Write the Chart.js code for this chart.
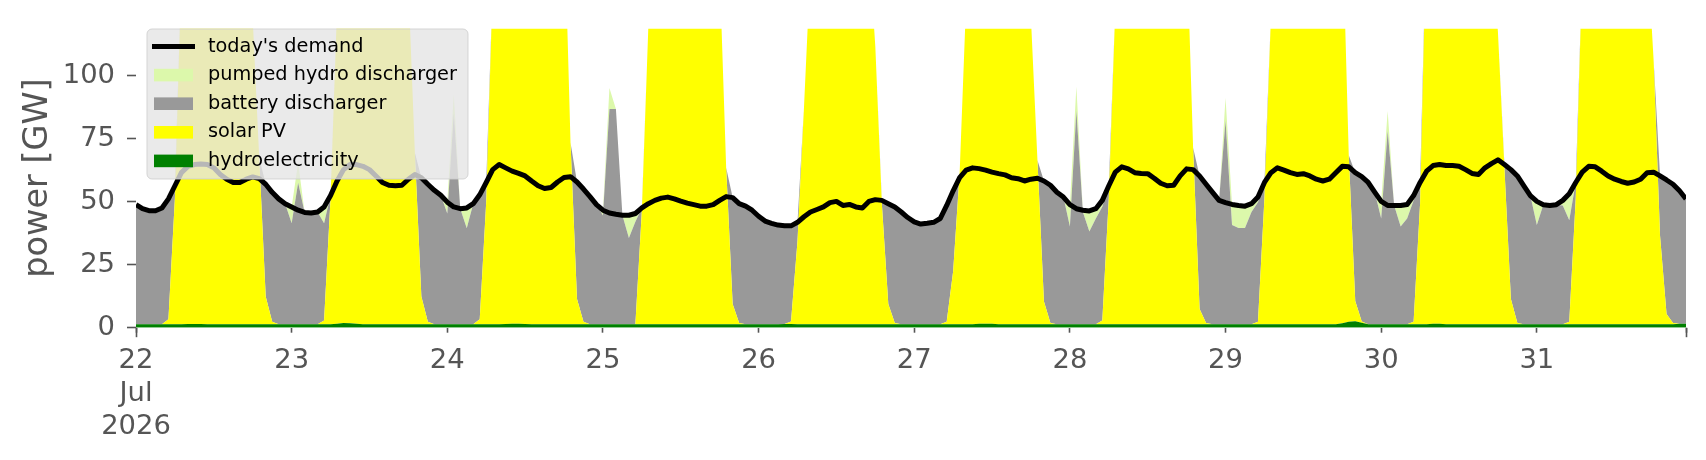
<!DOCTYPE html>
<html>
<head>
<meta charset="utf-8">
<script src="https://cdn.jsdelivr.net/npm/chart.js@4.4.1/dist/chart.umd.min.js"></script>
<style>
html,body{margin:0;padding:0;background:#ffffff;}
canvas{display:block;}
</style>
</head>
<body>
<canvas id="c" width="1706" height="460"></canvas>
<script>
// ---------- data (hourly, 22 Jul 2026 00:00 .. 31 Jul 2026 23:00) ----------
const xTickHours = [0, 24, 48, 72, 96, 120, 144, 168, 192, 216, 239];
const xTickLabels = [['22', 'Jul', '2026'], '23', '24', '25', '26', '27', '28', '29', '30', '31', ''];
const yTickValues = [0, 25, 50, 75, 100];
const seriesNames = ["hydroelectricity", "solar PV", "battery discharger", "pumped hydro discharger", "today's demand"];

const demand = [
  48.8,47.2,46.4,46.4,47.5,51.1,56.3,61.5,64.0,64.7,64.9,64.7,63.4,60.8,58.9,57.6,57.6,58.9,59.8,59.1,56.9,53.7,51.1,49.2,
  47.9,46.6,45.7,45.5,45.9,47.9,52.4,58.2,62.7,64.7,64.7,64.0,62.7,60.2,57.6,56.5,56.3,56.5,58.9,60.8,59.5,56.9,54.5,52.5,
  49.8,47.9,47.2,47.5,49.2,52.7,57.6,62.7,64.7,63.4,62.1,61.2,60.2,58.2,56.3,55.2,55.6,57.8,59.6,59.9,57.8,55.0,52.0,48.8,
  46.6,45.5,45.0,44.6,44.6,45.3,47.5,49.2,50.5,51.4,51.8,51.1,50.2,49.4,48.8,48.2,48.2,48.8,50.5,52.0,51.6,49.2,48.2,46.6,
  44.2,42.3,41.4,40.7,40.4,40.4,41.8,44.0,45.9,46.9,47.9,49.6,50.1,48.5,48.9,47.9,47.5,50.1,50.8,50.5,49.2,47.9,45.9,43.7,
  42.0,41.1,41.4,41.8,43.3,48.5,54.3,59.5,62.5,63.4,63.1,62.5,61.7,61.1,60.6,59.5,59.1,58.2,58.9,59.3,58.2,56.5,53.7,51.8,
  48.8,47.2,46.6,46.3,47.2,50.5,56.3,61.7,63.8,63.0,61.5,61.2,61.1,59.3,57.3,56.3,56.5,60.2,63.0,62.7,60.2,56.9,53.7,50.5,
  49.6,48.9,48.5,48.2,49.2,51.8,57.6,61.5,63.4,62.5,61.5,60.8,61.1,60.2,58.9,58.2,58.9,61.5,64.0,63.8,61.5,59.9,57.6,53.8,
  50.1,48.5,48.5,48.5,48.9,52.4,57.6,62.1,64.3,64.7,64.3,64.3,64.0,62.7,61.2,60.8,63.4,65.1,66.6,64.7,62.7,60.2,56.3,52.4,
  50.1,48.8,48.5,48.8,50.5,53.1,57.6,61.7,64.0,63.8,62.1,60.2,58.9,58.0,57.3,57.8,58.9,61.5,61.7,60.2,58.6,56.9,54.3,51.1
];

const hydro = [
  1.4,1.4,1.4,1.4,1.4,1.4,1.4,1.4,1.5,1.5,1.5,1.4,1.4,1.4,1.4,1.4,1.4,1.4,1.4,1.4,1.4,1.4,1.4,1.4,
  1.4,1.4,1.4,1.4,1.4,1.4,1.4,1.6,1.9,1.8,1.6,1.4,1.4,1.4,1.4,1.4,1.4,1.4,1.4,1.4,1.4,1.4,1.4,1.4,
  1.4,1.4,1.4,1.4,1.4,1.4,1.4,1.4,1.4,1.5,1.6,1.6,1.5,1.4,1.4,1.4,1.4,1.4,1.4,1.4,1.4,1.4,1.4,1.4,
  1.4,1.4,1.4,1.4,1.4,1.4,1.4,1.4,1.4,1.4,1.4,1.4,1.4,1.4,1.4,1.4,1.4,1.4,1.4,1.4,1.4,1.4,1.4,1.4,
  1.4,1.4,1.4,1.4,1.5,1.5,1.4,1.4,1.4,1.4,1.4,1.4,1.4,1.4,1.4,1.4,1.4,1.4,1.4,1.4,1.4,1.4,1.4,1.4,
  1.4,1.4,1.4,1.4,1.4,1.4,1.4,1.4,1.4,1.4,1.6,1.6,1.6,1.4,1.4,1.4,1.4,1.4,1.4,1.4,1.4,1.4,1.4,1.4,
  1.4,1.4,1.4,1.4,1.4,1.4,1.4,1.4,1.4,1.4,1.4,1.4,1.4,1.4,1.4,1.4,1.4,1.4,1.4,1.4,1.4,1.4,1.4,1.4,
  1.4,1.4,1.4,1.4,1.4,1.4,1.4,1.4,1.4,1.4,1.4,1.4,1.4,1.4,1.4,1.4,1.4,1.4,1.8,2.4,2.6,2.0,1.4,1.4,
  1.4,1.4,1.4,1.4,1.4,1.4,1.4,1.4,1.6,1.6,1.4,1.4,1.4,1.4,1.4,1.4,1.4,1.4,1.4,1.4,1.4,1.4,1.4,1.4,
  1.4,1.4,1.4,1.4,1.4,1.4,1.4,1.4,1.4,1.4,1.4,1.4,1.4,1.4,1.4,1.4,1.4,1.4,1.4,1.4,1.4,1.4,1.6,1.6
];

const solar = [
  0,0,0,0,0,2,50,139,170,195,212,220,222,216,205,188,166,145,121,66,11,1,0,0,
  0,0,0,0,0,1.5,50,125,165,190,208,218,220,214,200,184,165,150,135,68,11,1,0,0,
  0,0,0,0,0,2,48.5,134,170,195,210,218,220,215,205,192,180,172,165,72,10,1,0,0,
  0,0,0,0,0,0,45,118,165,190,205,212,215,210,198,182,165,150,140,62,8,0.5,0,0,
  0,0,0,0,0,1,33,86,142,170,188,200,205,202,195,182,165,150,110,48,8,0.5,0,0,
  0,0,0,0,0,1,21,60,128,160,185,200,208,210,205,195,180,160,121,65,9,0.5,0,0,
  0,0,0,0,0,1.5,50,125,165,190,205,212,215,210,200,188,175,162,153,70,6,0.5,0,0,
  0,0,0,0,0,1,50,122,165,190,205,212,215,210,200,190,180,170,160,66,8,0.5,0,0,
  0,0,0,0,0,1,48,160,175,192,206,213,215,210,200,185,168,150,116,62,10,0.5,0,0,
  0,0,0,0,0,1,50,140,168,192,206,213,215,210,200,185,168,150,105,35,4,0.5,0,0
];

const battery = [
  47.4,45.8,45.0,45.0,46.1,47.7,4.9,0,0,0,0,0,0,0,0,0,0,0,0,0,44.5,51.3,49.7,47.8,
  40.0,56.1,44.3,44.1,44.5,38.5,1.0,0,0,0,0,0,0,0,0,0,0,0,0,0,47.1,54.5,53.1,51.1,
  43.9,83.6,45.8,38.0,47.8,49.3,7.7,0,0,0,0,0,0,0,0,0,0,0,0,0,46.4,52.6,50.6,47.4,
  43.1,85.3,85.3,43.2,34.2,40.6,1.1,0,0,0,0,0,0,0,0,0,0,0,0,0,42.2,47.3,46.8,45.2,
  42.8,40.9,40.0,39.3,39.0,38.0,7.4,0,0,0,0,0,0,0,0,0,0,0,0,1.1,39.8,46.0,44.5,42.3,
  40.6,39.7,40.0,40.4,41.9,46.1,31.9,0,0,0,0,0,0,0,0,0,0,0,0,0,47.8,54.6,52.3,50.4,
  38.7,84.6,44.5,36.8,41.9,45.1,4.9,0,0,0,0,0,0,0,0,0,0,0,0,0,52.8,55.0,52.3,49.1,
  80.6,39.3,38.1,38.1,44.5,47.4,6.2,0,0,0,0,0,0,0,0,0,0,0,0,0,50.9,58.0,56.2,52.4,
  41.9,76.6,47.1,38.7,41.9,48.1,8.2,0,0,0,0,0,0,0,0,0,0,0,0,1.3,51.3,58.3,54.9,51.0,
  39.3,47.4,47.1,47.4,47.1,40.2,6.2,0,0,0,0,0,0,0,0,0,0,0,0,23.8,53.2,55.0,52.9,49.7
];

const pumped = [
  0,0,0,0,0,0,0,0,0,0,0,0,0,0,0,0,0,0,0,0,0,0,0,0,
  6.5,8,0,0,0,6.5,0,0,0,0,0,0,0,0,0,0,0,0,0,0,0,0,0,0,
  4.5,7.5,0,8.1,0,0,0,0,0,0,0,0,0,0,0,0,0,0,0,0,0,0,0,0,
  2.1,8.4,0,0,9.0,3.3,0,0,0,0,0,0,0,0,0,0,0,0,0,0,0,0,0,0,
  0,0,0,0,0,0,0,0,0,0,0,0,0,0,0,0,0,0,0,0,0,0,0,0,
  0,0,0,0,0,0,0,0,0,0,0,0,0,0,0,0,0,0,0,0,0,0,0,0,
  8.7,9.7,0.7,8.1,3.9,2.5,0,0,0,0,0,0,0,0,0,0,0,0,0,0,0,0,0,0,
  9.2,8.2,9.0,8.7,3.3,2.0,0,0,0,0,0,0,0,0,0,0,0,0,0,0,0,0,0,0,
  6.8,8,0,8.4,5.6,1.9,0,0,0,0,0,0,0,0,0,0,0,0,0,0,0,0,0,0,
  9.4,0,0,0,2.0,10.5,0,0,0,0,0,0,0,0,0,0,0,0,0,0,0,0,0,0
];

// ---------- styling ----------
const FONT = '"DejaVu Sans", "Liberation Sans", sans-serif';
const AXIS_GREY = '#555555';
const colors = {
  hydro: '#008000',
  solar: '#ffff00',
  battery: '#999999',
  pumped: '#dcf8ab',
  demand: '#000000'
};

const toPoints = arr => arr.map((v, i) => ({ x: i, y: v }));

function areaSet(label, data, color, fill) {
  return {
    label: label,
    data: toPoints(data),
    backgroundColor: color,
    borderColor: 'rgba(0,0,0,0)',
    borderWidth: 0,
    pointRadius: 0,
    pointHoverRadius: 0,
    tension: 0,
    fill: fill,
    stack: 'supply',
    order: 1
  };
}

const datasets = [
  areaSet(seriesNames[0], hydro, colors.hydro, 'origin'),
  areaSet(seriesNames[1], solar, colors.solar, '-1'),
  areaSet(seriesNames[2], battery, colors.battery, '-1'),
  areaSet(seriesNames[3], pumped, colors.pumped, '-1'),
  {
    label: seriesNames[4],
    data: toPoints(demand),
    borderColor: colors.demand,
    backgroundColor: colors.demand,
    borderWidth: 5,
    pointRadius: 0,
    pointHoverRadius: 0,
    tension: 0,
    fill: false,
    borderJoinStyle: 'round',
    borderCapStyle: 'butt',
    stack: 'demand',
    order: 0
  }
];

// long ticks at the first and last x positions
const edgeTicks = {
  id: 'edgeTicks',
  afterDraw(chart) {
    const ctx = chart.ctx;
    const xs = chart.scales.x;
    const bottom = chart.chartArea.bottom;
    ctx.save();
    ctx.strokeStyle = AXIS_GREY;
    ctx.lineWidth = 1.6;
    [xTickHours[0], xTickHours[xTickHours.length - 1]].forEach(v => {
      const px = Math.round(xs.getPixelForValue(v)) + 0.5;
      ctx.beginPath();
      ctx.moveTo(px, bottom);
      ctx.lineTo(px, bottom + 9.5);
      ctx.stroke();
    });
    ctx.restore();
  }
};

// framed legend inside the plot (matplotlib style)
const boxLegend = {
  id: 'boxLegend',
  afterDraw(chart) {
    const ctx = chart.ctx;
    const bx = 147, by = 29, bw = 321, bh = 150, r = 5;
    ctx.save();
    ctx.beginPath();
    ctx.moveTo(bx + r, by);
    ctx.lineTo(bx + bw - r, by);
    ctx.arcTo(bx + bw, by, bx + bw, by + r, r);
    ctx.lineTo(bx + bw, by + bh - r);
    ctx.arcTo(bx + bw, by + bh, bx + bw - r, by + bh, r);
    ctx.lineTo(bx + r, by + bh);
    ctx.arcTo(bx, by + bh, bx, by + bh - r, r);
    ctx.lineTo(bx, by + r);
    ctx.arcTo(bx, by, bx + r, by, r);
    ctx.closePath();
    ctx.fillStyle = 'rgba(229,229,229,0.8)';
    ctx.fill();
    ctx.strokeStyle = 'rgba(204,204,204,0.8)';
    ctx.lineWidth = 1;
    ctx.stroke();

    const ds = chart.data.datasets;
    const rows = [4, 3, 2, 1, 0];
    ctx.font = '19.3px ' + FONT;
    ctx.textBaseline = 'middle';
    ctx.textAlign = 'left';
    rows.forEach((di, k) => {
      const cy = 46.5 + k * 28.6;
      const d = ds[di];
      if (d.fill === false) {
        ctx.strokeStyle = d.borderColor;
        ctx.lineWidth = 5;
        ctx.lineCap = 'butt';
        ctx.beginPath();
        ctx.moveTo(152, cy);
        ctx.lineTo(195, cy);
        ctx.stroke();
      } else {
        ctx.fillStyle = d.backgroundColor;
        ctx.fillRect(154, cy - 6.3, 39, 12.6);
      }
      ctx.fillStyle = '#000000';
      ctx.fillText(d.label, 208, cy);
    });
    ctx.restore();
  }
};

Chart.defaults.font.family = FONT;

new Chart(document.getElementById('c'), {
  type: 'line',
  data: { datasets: datasets },
  options: {
    responsive: false,
    animation: false,
    devicePixelRatio: 1,
    events: [],
    layout: { padding: { top: 22, right: 20, left: 0, bottom: 0 } },
    plugins: {
      legend: { display: false },
      tooltip: { enabled: false },
      title: { display: false }
    },
    scales: {
      x: {
        type: 'linear',
        min: 0,
        max: 239,
        afterBuildTicks: s => { s.ticks = xTickHours.map(v => ({ value: v })); },
        afterFit: s => { s.height = 132.3; },
        border: { display: false },
        grid: {
          display: true,
          drawOnChartArea: false,
          drawTicks: true,
          tickLength: 5,
          tickColor: AXIS_GREY,
          tickWidth: 1.6
        },
        ticks: {
          autoSkip: false,
          maxRotation: 0,
          minRotation: 0,
          padding: 12,
          color: AXIS_GREY,
          font: { size: 27.4, family: FONT, lineHeight: 1.2 },
          callback: (value) => {
            const i = xTickHours.indexOf(value);
            return i >= 0 ? xTickLabels[i] : null;
          }
        }
      },
      y: {
        type: 'linear',
        stacked: true,
        min: 0,
        max: 118.7,
        afterBuildTicks: s => { s.ticks = yTickValues.map(v => ({ value: v })); },
        afterFit: s => { s.width = 136; },
        border: { display: false },
        grid: {
          display: true,
          drawOnChartArea: false,
          drawTicks: true,
          tickLength: 9,
          tickColor: AXIS_GREY,
          tickWidth: 1.6
        },
        ticks: {
          padding: 12,
          color: AXIS_GREY,
          font: { size: 27.4, family: FONT }
        },
        title: {
          display: true,
          text: 'power [GW]',
          color: AXIS_GREY,
          font: { size: 33.5, family: FONT, lineHeight: 1.2 },
          padding: { top: 18, bottom: 0 }
        }
      }
    }
  },
  plugins: [edgeTicks, boxLegend]
});
</script>
</body>
</html>
